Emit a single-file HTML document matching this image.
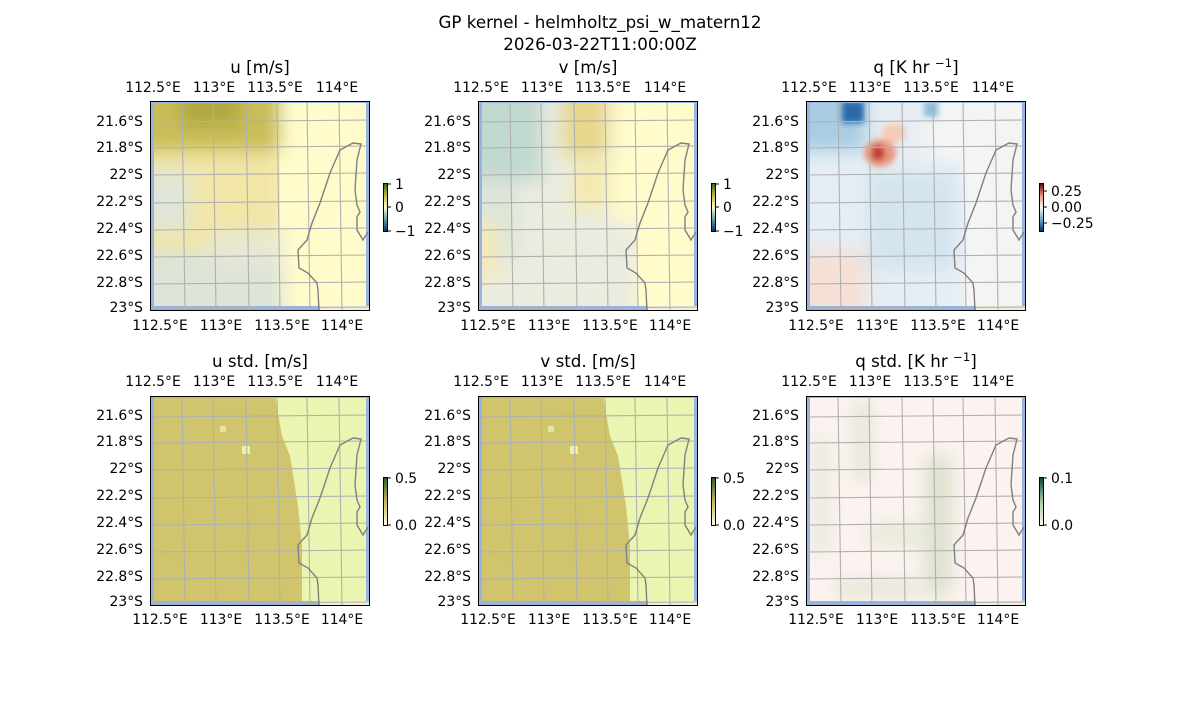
<!DOCTYPE html>
<html><head><meta charset="utf-8"><style>
body{margin:0;background:#fff;}
svg text{font-family:"DejaVu Sans","Liberation Sans",sans-serif;fill:#000;}
</style></head><body>
<svg width="1200" height="700" viewBox="0 0 1200 700" xmlns="http://www.w3.org/2000/svg">
<defs>
<filter id="b6" x="-50%" y="-50%" width="200%" height="200%"><feGaussianBlur stdDeviation="9"/></filter>
<filter id="b3" x="-50%" y="-50%" width="200%" height="200%"><feGaussianBlur stdDeviation="3"/></filter>
<clipPath id="cp"><rect x="4" y="2" width="212" height="203"/></clipPath>
<g id="grid" fill="none" stroke="#b0b0b0" stroke-width="1.1">
<path d="M32 0L35 210M63 0L66 210M96 0L99 210M127 0L130 210M157 0L160 210M189 0L192 210"/>
<path d="M0 21L220 19M0 47L220 45M0 74L220 72M0 102L220 100M0 129L220 127M0 156L220 154M0 183L220 181M0 208L220 206"/>
</g>
<path id="coast" fill="none" stroke="#808080" stroke-width="1.4" d="M169 210L168 189L167 182L158 172L149 167L148 149L157 139L162 122L170 102L180 72L190 49L203 42L211 43L207 59L205 89L207 104L210 111L207 116L207 129L213 139L218 131"/>
<g id="land"><rect x="170" y="205" width="50" height="5" fill="#efeddc"/></g>
</defs>

<text x="600" y="28" font-size="16.7" text-anchor="middle">GP kernel - helmholtz_psi_w_matern12</text>
<text x="600" y="50" font-size="16.7" text-anchor="middle">2026-03-22T11:00:00Z</text>

<g transform="translate(150,101)">
<rect width="220" height="210" fill="#97b3e0"/>
<g clip-path="url(#cp)">
<rect width="220" height="210" fill="#fffbca"/>
<rect x="0" y="0" width="130" height="210" fill="#f1e6a6"/>
<g filter="url(#b6)">
<rect x="-20" y="-20" width="150" height="70" fill="#c9bd58"/>
<rect x="30" y="-10" width="60" height="35" fill="#b0a83c"/>
<rect x="-20" y="70" width="60" height="60" fill="#dfe5d8"/>
<rect x="-20" y="150" width="190" height="70" fill="#dde4d8"/>
<rect x="60" y="130" width="90" height="30" fill="#e8e8d4"/>
<rect x="133" y="-20" width="100" height="250" fill="#fffbca"/>
</g>
</g>
<use href="#land"/>
<use href="#grid"/><use href="#coast"/>
<rect x="0.5" y="0.5" width="219" height="209" fill="none" stroke="#000" stroke-width="1"/>
</g>

<g transform="translate(478,101)">
<rect width="220" height="210" fill="#97b3e0"/>
<g clip-path="url(#cp)">
<rect width="220" height="210" fill="#fffbca"/>
<rect x="0" y="0" width="160" height="210" fill="#eaece0"/>
<g filter="url(#b6)">
<rect x="-20" y="-20" width="85" height="100" fill="#c2d9d0"/>
<rect x="-20" y="80" width="60" height="80" fill="#dde5d8"/>
<rect x="85" y="-20" width="45" height="75" fill="#e8d68a"/>
<rect x="95" y="60" width="35" height="50" fill="#f4eaad"/>
<rect x="-10" y="120" width="30" height="60" fill="#f4eab8"/>
<rect x="160" y="-20" width="70" height="250" fill="#fffbca"/>
<rect x="133" y="-20" width="40" height="140" fill="#fffbca"/>
</g>
</g>
<use href="#land"/>
<use href="#grid"/><use href="#coast"/>
<rect x="0.5" y="0.5" width="219" height="209" fill="none" stroke="#000"/>
</g>

<g transform="translate(806,101)">
<rect width="220" height="210" fill="#97b3e0"/>
<g clip-path="url(#cp)">
<rect width="220" height="210" fill="#f4f4f4"/>
<rect x="0" y="0" width="160" height="210" fill="#e6eef4"/>
<g filter="url(#b6)">
<rect x="-20" y="-20" width="80" height="70" fill="#a9cce4"/>
<rect x="60" y="70" width="90" height="100" fill="#d4e5f0"/>
<rect x="-20" y="150" width="80" height="70" fill="#f6e0d6"/>
<rect x="120" y="-20" width="40" height="80" fill="#f4f4f4"/>
<rect x="160" y="-20" width="70" height="250" fill="#f4f4f4"/>
</g>
<g filter="url(#b3)">
<rect x="36" y="0" width="22" height="22" fill="#2a6aa8"/>
<ellipse cx="74" cy="52" rx="16" ry="14" fill="#e89a82"/>
<ellipse cx="72" cy="52" rx="7" ry="8" fill="#c43a32"/>
<ellipse cx="88" cy="32" rx="12" ry="10" fill="#f6cbb6"/>
<rect x="118" y="0" width="14" height="16" fill="#8cbedc"/>
</g>
</g>
<use href="#land"/>
<use href="#grid"/><use href="#coast"/>
<rect x="0.5" y="0.5" width="219" height="209" fill="none" stroke="#000"/>
</g>

<g transform="translate(150,396)">
<rect width="220" height="210" fill="#97b3e0"/>
<g clip-path="url(#cp)">
<rect width="220" height="210" fill="#e9f5b0"/>
<path d="M0 0H125L132 40L140 60L148 110L152 150L152 210H0Z" fill="#d0c56c"/>
<rect x="92" y="50" width="8" height="8" fill="#e9f0b0"/>
<rect x="70" y="30" width="6" height="6" fill="#e2e4a0"/>
</g>
<use href="#land"/>
<use href="#grid"/><use href="#coast"/>
<rect x="0.5" y="0.5" width="219" height="209" fill="none" stroke="#000"/>
</g>

<g transform="translate(478,396)">
<rect width="220" height="210" fill="#97b3e0"/>
<g clip-path="url(#cp)">
<rect width="220" height="210" fill="#e9f5b0"/>
<path d="M0 0H125L132 40L140 60L148 110L152 150L152 210H0Z" fill="#d0c56c"/>
<rect x="92" y="50" width="8" height="8" fill="#e9f0b0"/>
<rect x="70" y="30" width="6" height="6" fill="#e2e4a0"/>
</g>
<use href="#land"/>
<use href="#grid"/><use href="#coast"/>
<rect x="0.5" y="0.5" width="219" height="209" fill="none" stroke="#000"/>
</g>

<g transform="translate(806,396)">
<rect width="220" height="210" fill="#97b3e0"/>
<g clip-path="url(#cp)">
<rect width="220" height="210" fill="#fcf3f0"/>
<g filter="url(#b6)" opacity="0.8">
<rect x="50" y="5" width="14" height="80" fill="#d4dfc6"/>
<rect x="120" y="60" width="25" height="140" fill="#d2dcc2"/>
<rect x="30" y="185" width="80" height="14" fill="#d4dfc6"/>
<rect x="60" y="130" width="70" height="18" fill="#dde4cf"/>
<rect x="5" y="40" width="20" height="120" fill="#e6e8da"/>
</g>
</g>
<use href="#land"/>
<use href="#grid"/><use href="#coast"/>
<rect x="0.5" y="0.5" width="219" height="209" fill="none" stroke="#000"/>
</g>

<g font-size="16.7" text-anchor="middle">
<text x="260" y="73">u [m/s]</text>
<text x="588" y="73">v [m/s]</text>
<text x="916" y="73">q [K hr <tspan dy="-6" font-size="11.7">−1</tspan><tspan dy="6">]</tspan></text>
<text x="260" y="367">u std. [m/s]</text>
<text x="588" y="367">v std. [m/s]</text>
<text x="916" y="367">q std. [K hr <tspan dy="-6" font-size="11.7">−1</tspan><tspan dy="6">]</tspan></text>
</g>

<g font-size="13.9" text-anchor="middle">
<g id="toplab">
<text x="153" y="92">112.5°E</text><text x="214" y="92">113°E</text><text x="275" y="92">113.5°E</text><text x="337" y="92">114°E</text>
</g>
<g id="botlab">
<text x="160" y="330">112.5°E</text><text x="221" y="330">113°E</text><text x="282" y="330">113.5°E</text><text x="342" y="330">114°E</text>
</g>
<use href="#toplab" x="328"/><use href="#toplab" x="656"/>
<use href="#botlab" x="328"/><use href="#botlab" x="656"/>
<use href="#toplab" y="294"/><use href="#toplab" x="328" y="294"/><use href="#toplab" x="656" y="294"/>
<use href="#botlab" y="294"/><use href="#botlab" x="328" y="294"/><use href="#botlab" x="656" y="294"/>
</g>
<g font-size="13.9" text-anchor="end">
<g id="leftlab">
<text x="143" y="126">21.6°S</text><text x="143" y="152">21.8°S</text><text x="143" y="179">22°S</text><text x="143" y="206">22.2°S</text><text x="143" y="233">22.4°S</text><text x="143" y="260">22.6°S</text><text x="143" y="287">22.8°S</text><text x="143" y="312">23°S</text>
</g>
<use href="#leftlab" x="328"/><use href="#leftlab" x="656"/>
<use href="#leftlab" y="294"/><use href="#leftlab" x="328" y="294"/><use href="#leftlab" x="656" y="294"/>
</g>

<defs>
<linearGradient id="cbuv" x1="0" y1="1" x2="0" y2="0">
<stop offset="0" stop-color="#08306b"/><stop offset="0.25" stop-color="#60a0a0"/><stop offset="0.5" stop-color="#fffbca"/><stop offset="0.75" stop-color="#c8b848"/><stop offset="1" stop-color="#1f6a10"/>
</linearGradient>
<linearGradient id="cbq" x1="0" y1="1" x2="0" y2="0">
<stop offset="0" stop-color="#053061"/><stop offset="0.25" stop-color="#6aa8d0"/><stop offset="0.5" stop-color="#f7f7f7"/><stop offset="0.75" stop-color="#e8907a"/><stop offset="1" stop-color="#67001f"/>
</linearGradient>
<linearGradient id="cbs" x1="0" y1="1" x2="0" y2="0">
<stop offset="0" stop-color="#fffbe0"/><stop offset="0.5" stop-color="#c8b860"/><stop offset="1" stop-color="#2a5a20"/>
</linearGradient>
<linearGradient id="cbqs" x1="0" y1="1" x2="0" y2="0">
<stop offset="0" stop-color="#fff5f0"/><stop offset="0.5" stop-color="#a8c8a0"/><stop offset="1" stop-color="#004a40"/>
</linearGradient>
</defs>
<g stroke="#000" stroke-width="1">
<rect x="383.5" y="183.5" width="4" height="48" fill="url(#cbuv)"/>
<rect x="711.5" y="183.5" width="4" height="48" fill="url(#cbuv)"/>
<rect x="1039.5" y="183.5" width="4" height="48" fill="url(#cbq)"/>
<rect x="383.5" y="477.5" width="4" height="48" fill="url(#cbs)"/>
<rect x="711.5" y="477.5" width="4" height="48" fill="url(#cbs)"/>
<rect x="1039.5" y="477.5" width="4" height="48" fill="url(#cbqs)"/>
<path d="M388 184h3M388 207h3M388 231h3M716 184h3M716 207h3M716 231h3M1044 191h3M1044 207h3M1044 223h3M388 478h3M388 525h3M716 478h3M716 525h3M1044 478h3M1044 525h3"/>
</g>
<g font-size="13.9">
<text x="395" y="189">1</text><text x="395" y="212">0</text><text x="395" y="236">−1</text>
<text x="723" y="189">1</text><text x="723" y="212">0</text><text x="723" y="236">−1</text>
<text x="1051" y="196">0.25</text><text x="1051" y="212">0.00</text><text x="1051" y="228">−0.25</text>
<text x="395" y="483">0.5</text><text x="395" y="530">0.0</text>
<text x="723" y="483">0.5</text><text x="723" y="530">0.0</text>
<text x="1051" y="483">0.1</text><text x="1051" y="530">0.0</text>
</g>
</svg>
</body></html>
